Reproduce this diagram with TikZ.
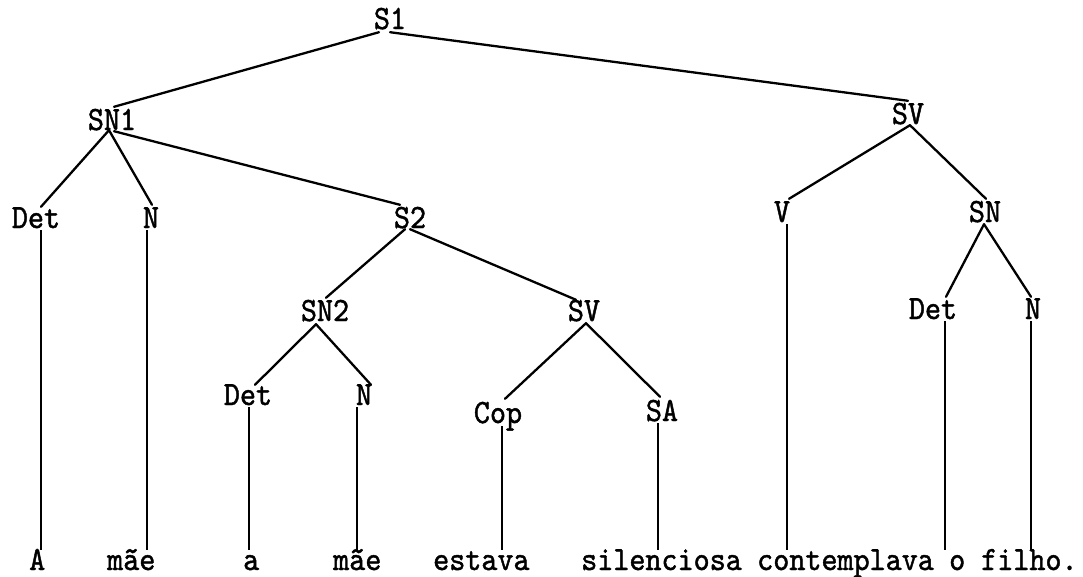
\documentclass[tikz,border=0pt]{standalone}
\usepackage{fontspec}
\usetikzlibrary{calc}
% typewriter face: tall, narrow pitch, slightly emboldened
\newfontfamily\twfont{lmmono10-regular.otf}[FakeBold=1.3, FakeStretch=0.9]
\begin{document}
\begin{tikzpicture}[x=1pt,y=-1pt,
  lab/.style={font=\twfont\fontsize{34}{34}\selectfont, inner sep=0pt,
              text height=20pt, text depth=0pt},
  word/.style={lab, anchor=base west},
  edge/.style={line width=2.3pt, line cap=round},
  stem/.style={line width=1.9pt}]
\useasboundingbox (0,0) rectangle (1083,576);

% category labels
\node[lab] (s1)   at (390,19)  {S1};
\node[lab] (sn1)  at (112,120) {SN1};
\node[lab] (sva)  at (908,114) {SV};
\node[lab] (det1) at (36,218)  {Det};
\node[lab] (n1)   at (151,218) {N};
\node[lab] (s2)   at (410,218) {S2};
\node[lab] (v)    at (782,212) {V};
\node[lab] (sn)   at (985,212) {SN};
\node[lab] (sn2)  at (325,311) {SN2};
\node[lab] (svb)  at (584,311) {SV};
\node[lab] (det2) at (933,309) {Det};
\node[lab] (n3)   at (1033,309){N};
\node[lab] (det3) at (248,395) {Det};
\node[lab] (n2)   at (364,395) {N};
\node[lab] (cop)  at (498,413) {Cop};
\node[lab] (sa)   at (662,411) {SA};

% terminal words
\node[word] (w1) at (29,570)  {A};
\node[word] (w2) at (107,570) {mãe};
\node[word] (w3) at (243,570) {a};
\node[word] (w4) at (333,570) {mãe};
\node[word] (w5) at (433,570) {estava};
\node[word] (w6) at (581,570) {silenciosa};
\node[word] (w7) at (757,570) {contemplava};
\node[word] (w8) at (949,570) {o};
\node[word] (w9) at (981,570) {filho.};

% branches
\draw[edge] ($(s1.south)+(-11,3)$) -- ($(sn1.north)+(2,-3)$);
\draw[edge] ($(s1.south)+(0,3)$) -- ($(sva.north)+(0,-3)$);
\draw[edge] ($(sn1.south)+(-3,0)$) -- ($(det1.north)+(5,-1)$);
\draw[edge] ($(sn1.south)+(-3,0)$) -- ($(n1.north)+(1,-3)$);
\draw[edge] ($(sn1.south)+(2,1)$) -- ($(s2.north)+(-10,-3)$);
\draw[edge] ($(s2.south)+(-5,1)$) -- ($(sn2.north)+(1,-3)$);
\draw[edge] ($(s2.south)+(0,1)$) -- ($(svb.north)+(-8,-1)$);
\draw[edge] ($(sva.south)+(2,1)$) -- ($(v.north)+(7,-3)$);
\draw[edge] ($(sva.south)+(2,1)$) -- ($(sn.north)+(1,-3)$);
\draw[edge] ($(sn.south)+(-1,2)$) -- ($(det2.north)+(13,-2)$);
\draw[edge] ($(sn.south)+(-1,2)$) -- ($(n3.north)+(-2,-2)$);
\draw[edge] ($(sn2.south)+(-9,3)$) -- ($(det3.north)+(7,0)$);
\draw[edge] ($(sn2.south)+(-9,3)$) -- ($(n2.north)+(7,0)$);
\draw[edge] ($(svb.south)+(2,2)$) -- ($(cop.north)+(7,-4)$);
\draw[edge] ($(svb.south)+(2,2)$) -- ($(sa.north)+(-2,-4)$);

% stems down to the words
\coordinate (a1) at ($(det1.south)+(5,2)$);
\coordinate (a2) at ($(n1.south)+(-4,2)$);
\coordinate (a3) at ($(det3.south)+(1,2)$);
\coordinate (a4) at ($(n2.south)+(-7,2)$);
\coordinate (a5) at ($(cop.south)+(4,3)$);
\coordinate (a6) at ($(sa.south)+(-4,2)$);
\coordinate (a7) at ($(v.south)+(5,2)$);
\coordinate (a8) at ($(det2.south)+(12,2)$);
\coordinate (a9) at ($(n3.south)+(-2,2)$);
\draw[stem] (a1) -- (a1 |- w1.north);
\draw[stem] (a2) -- (a2 |- w2.north);
\draw[stem] (a3) -- (a3 |- w3.north);
\draw[stem] (a4) -- (a4 |- w4.north);
\draw[stem] (a5) -- (a5 |- w5.north);
\draw[stem] (a6) -- (a6 |- w6.north);
\draw[stem] (a7) -- (a7 |- w7.north);
\draw[stem] (a8) -- (a8 |- w8.north);
\draw[stem] (a9) -- (a9 |- w9.north);
\end{tikzpicture}
\end{document}
